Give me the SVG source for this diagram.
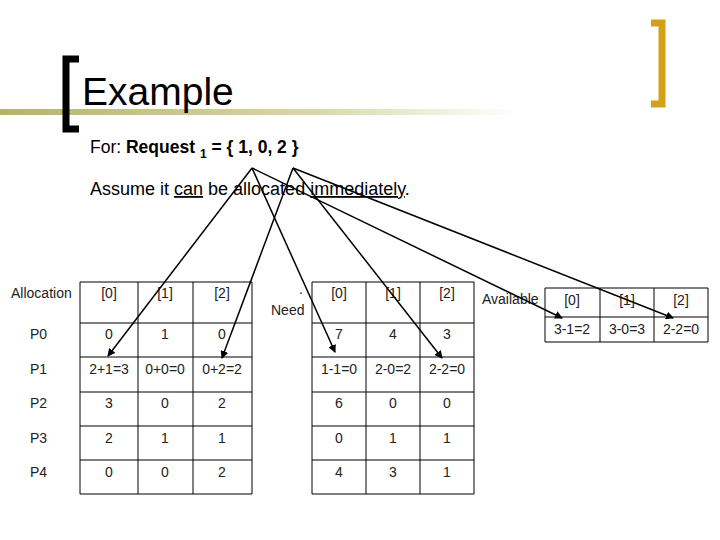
<svg xmlns="http://www.w3.org/2000/svg" width="720" height="540" viewBox="0 0 720 540">
<style>
text{font-family:"Liberation Sans",Arial,sans-serif;fill:#000}
.c{font-size:14px;text-anchor:middle;fill:#222}
.l{font-size:14px;fill:#222}
.g{fill:none;stroke:#000;stroke-width:1}
.a{stroke:#000;stroke-width:1.5;fill:none;marker-end:url(#ah)}
</style>
<defs>
<marker id="ah" markerWidth="8" markerHeight="8" refX="7" refY="4" orient="auto" markerUnits="userSpaceOnUse"><path d="M0,0 L8,4 L0,8 z" fill="#000"/></marker>
<linearGradient id="gl" x1="0" x2="1"><stop offset="0" stop-color="#b5b36a"/><stop offset="0.6" stop-color="#d8d7a8"/><stop offset="1" stop-color="#ffffff"/></linearGradient>
</defs>
<rect width="720" height="540" fill="#fff"/>
<g id="title">
<rect x="0" y="109" width="520" height="6" fill="url(#gl)"/>
<path d="M79,59 H66 V129 H79" fill="none" stroke="#000" stroke-width="7"/>
<path d="M651,23 H662 V104 H651" fill="none" stroke="#d4a017" stroke-width="7"/>
<text x="82" y="105" font-size="39">Example</text>
<text x="90" y="153" font-size="17.5">For:  <tspan font-weight="bold">Request </tspan><tspan font-weight="bold" font-size="12" dy="5">1</tspan><tspan font-weight="bold" dy="-5"> = { 1, 0, 2 }</tspan></text>
<text x="90" y="195" font-size="18">Assume it <tspan text-decoration="underline">can</tspan> be allocated <tspan text-decoration="underline">immediately</tspan>.</text>
</g>
<g id="allocation">
<path class="g" d="M80,282 H252 V494 H80 Z M138,282 V494 M193,282 V494 M80,323 H252 M80,357 H252 M80,392 H252 M80,426 H252 M80,460 H252"/>
<text class="l" x="11" y="298">Allocation</text>
<text class="l" x="30" y="339">P0</text><text class="l" x="30" y="374">P1</text><text class="l" x="30" y="408">P2</text><text class="l" x="30" y="443">P3</text><text class="l" x="30" y="477">P4</text>
<text class="c" x="109" y="298">[0]</text><text class="c" x="165" y="298">[1]</text><text class="c" x="222" y="298">[2]</text>
<text class="c" x="109" y="339">0</text><text class="c" x="165" y="339">1</text><text class="c" x="222" y="339">0</text>
<text class="c" x="109" y="374">2+1=3</text><text class="c" x="165" y="374">0+0=0</text><text class="c" x="222" y="374">0+2=2</text>
<text class="c" x="109" y="408">3</text><text class="c" x="165" y="408">0</text><text class="c" x="222" y="408">2</text>
<text class="c" x="109" y="443">2</text><text class="c" x="165" y="443">1</text><text class="c" x="222" y="443">1</text>
<text class="c" x="109" y="477">0</text><text class="c" x="165" y="477">0</text><text class="c" x="222" y="477">2</text>
</g>
<g id="need">
<path class="g" d="M312,282 H474 V494 H312 Z M366,282 V494 M420,282 V494 M312,323 H474 M312,357 H474 M312,392 H474 M312,426 H474 M312,460 H474"/>
<text class="l" x="299" y="294">.</text>
<text class="l" x="271" y="315">Need</text>
<text class="c" x="339" y="298">[0]</text><text class="c" x="393" y="298">[1]</text><text class="c" x="447" y="298">[2]</text>
<text class="c" x="339" y="339">7</text><text class="c" x="393" y="339">4</text><text class="c" x="447" y="339">3</text>
<text class="c" x="339" y="374">1-1=0</text><text class="c" x="393" y="374">2-0=2</text><text class="c" x="447" y="374">2-2=0</text>
<text class="c" x="339" y="408">6</text><text class="c" x="393" y="408">0</text><text class="c" x="447" y="408">0</text>
<text class="c" x="339" y="443">0</text><text class="c" x="393" y="443">1</text><text class="c" x="447" y="443">1</text>
<text class="c" x="339" y="477">4</text><text class="c" x="393" y="477">3</text><text class="c" x="447" y="477">1</text>
</g>
<g id="available">
<path class="g" d="M545,288 H708 V342 H545 Z M600,288 V342 M654,288 V342 M545,317 H708"/>
<text class="l" x="482" y="304">Available</text>
<text class="c" x="572" y="305">[0]</text><text class="c" x="627" y="305">[1]</text><text class="c" x="681" y="305">[2]</text>
<text class="c" x="572" y="334">3-1=2</text><text class="c" x="627" y="334">3-0=3</text><text class="c" x="681" y="334">2-2=0</text>
</g>
<g id="connectors">
<line class="a" x1="252" y1="168" x2="108" y2="356"/>
<line class="a" x1="252" y1="168" x2="335" y2="352"/>
<line class="a" x1="252" y1="168" x2="562" y2="318"/>
<line class="a" x1="293" y1="168" x2="222" y2="358"/>
<line class="a" x1="293" y1="168" x2="442" y2="358"/>
<line class="a" x1="293" y1="168" x2="673" y2="318"/>
</g>
</svg>
